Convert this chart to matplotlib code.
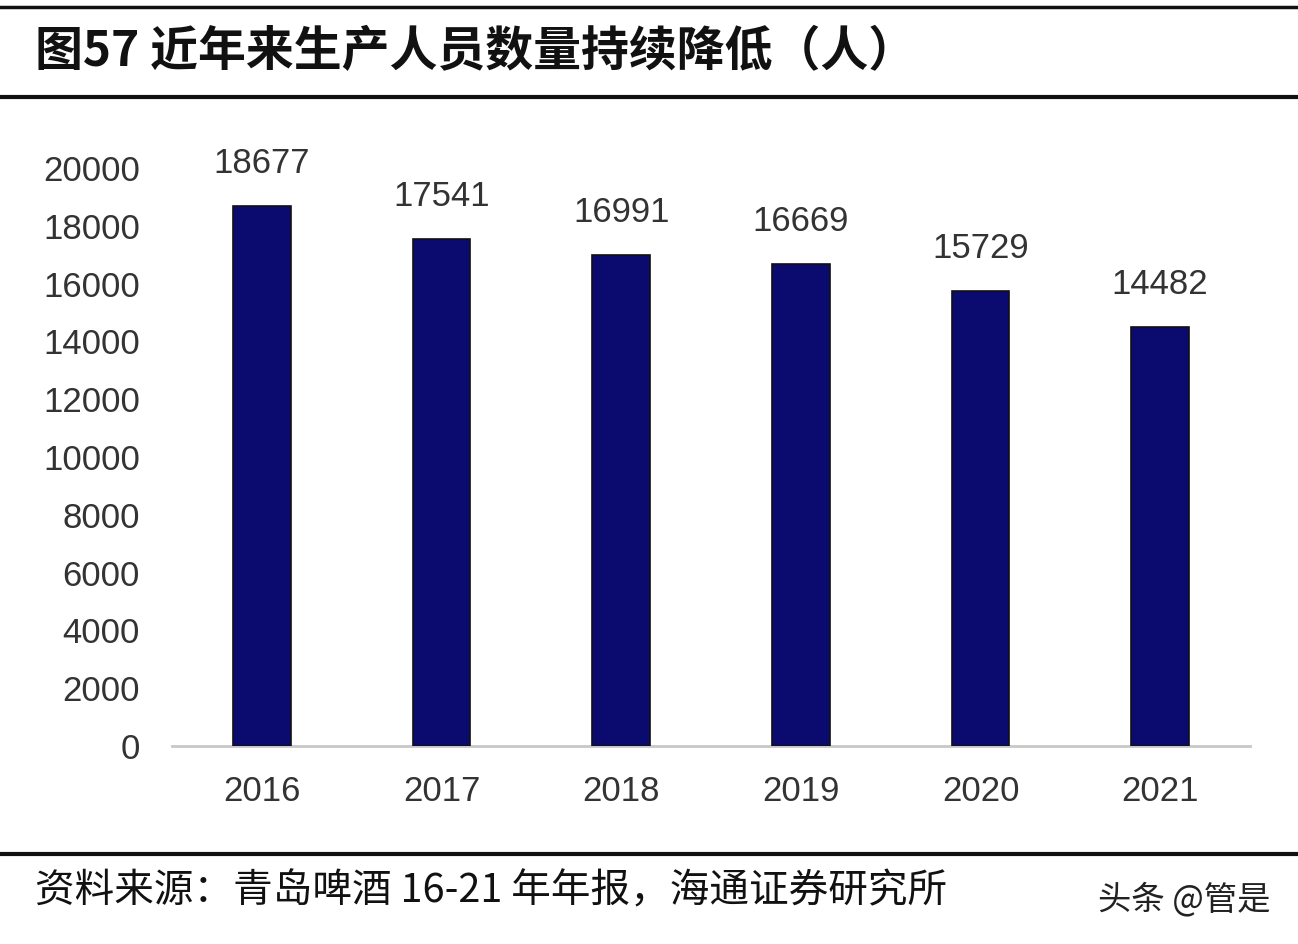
import matplotlib
matplotlib.use("Agg")
import matplotlib.pyplot as plt
from matplotlib.lines import Line2D

years = ["2016", "2017", "2018", "2019", "2020", "2021"]
staff = [18677, 17541, 16991, 16669, 15729, 14482]
yticks = [0, 2000, 4000, 6000, 8000, 10000, 12000, 14000, 16000, 18000, 20000]

title = "图57 近年来生产人员数量持续降低（人）"
source = "资料来源：青岛啤酒 16-21 年年报，海通证券研究所"
watermark = "头条 @管是"

cjk = ["Noto Sans CJK SC", "DejaVu Sans"]
num = ["Liberation Sans", "DejaVu Sans"]

fig = plt.figure(figsize=(12.98, 9.44), dpi=100)
fig.patch.set_facecolor("white")

ax = fig.add_axes([172/1298, 1-746/944, 1078/1298, (746-168)/944])
x = list(range(len(years)))
ax.bar(x, staff, width=0.32, color="#0b0b6f", edgecolor="#111111", linewidth=1.2, zorder=3)
for xi, v in zip(x, staff):
    ax.text(xi, v + 900, str(v), ha="center", va="bottom", fontsize=25,
            family=num, color="#333333", clip_on=False)

ax.set_xlim(-0.5, len(years) - 0.5)
ax.set_ylim(0, 20000)
ax.set_yticks(yticks)
ax.set_yticklabels([str(t) for t in yticks], fontsize=25, family=num, color="#333333")
ax.set_xticks(x)
ax.set_xticklabels(years, fontsize=25, family=num, color="#333333")
ax.tick_params(axis="both", length=0)
ax.tick_params(axis="y", pad=23)
ax.tick_params(axis="x", pad=21)
for s in ["top", "right", "left"]:
    ax.spines[s].set_visible(False)
ax.spines["bottom"].set_color("#c8c8c8")
ax.spines["bottom"].set_linewidth(2)
ax.set_facecolor("white")

# frame lines
for yp, lw in [(7, 2.5), (97, 3), (854, 3)]:
    fig.add_artist(Line2D([0, 1], [1 - yp/944, 1 - yp/944], transform=fig.transFigure,
                          color="#111111", linewidth=lw))

fig.text(35/1298, 1 - 52/944, title, ha="left", va="center", fontsize=34.5,
         fontweight="bold", family=cjk, color="#111111")
fig.text(35/1298, 1 - 891/944, source, ha="left", va="center", fontsize=28.5,
         family=cjk, color="#111111")
fig.text(1270/1298, 1 - 900/944, watermark, ha="right", va="center", fontsize=24,
         family=cjk, color="#222222")

fig.savefig("out.png", dpi=100, facecolor="white")
